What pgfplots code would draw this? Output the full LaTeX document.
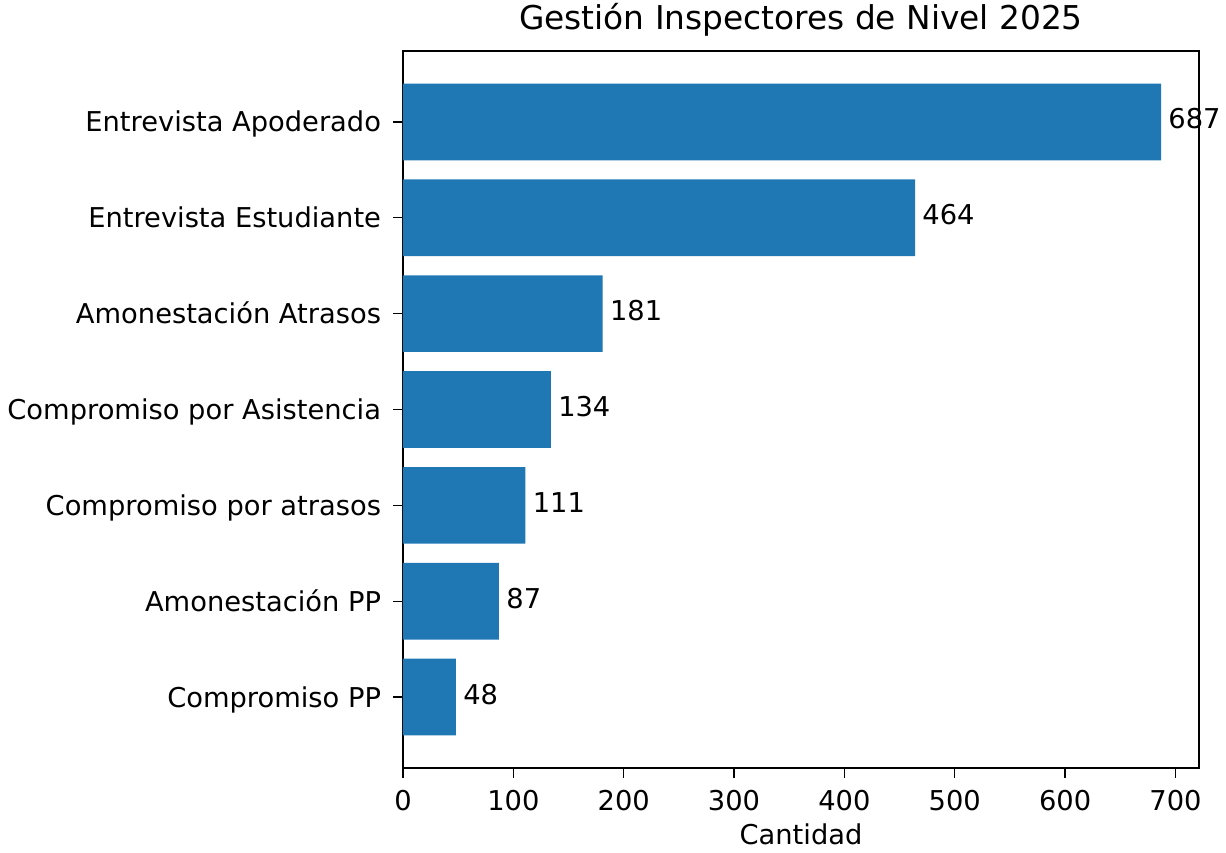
\documentclass[border=0pt]{standalone}
\usepackage{pgfplots}
\pgfplotsset{compat=1.18}
\usepackage{fontspec}
\setmainfont{DejaVu Sans}
\definecolor{mplblue}{HTML}{1F77B4}
\begin{document}
\begin{tikzpicture}
\begin{pgfinterruptboundingbox}
\begin{axis}[
  scale only axis,
  width=398pt, height=358.5pt,
  xbar, bar width=0.8,
  xmin=0, xmax=721.35,
  ymin=-0.74, ymax=6.74,
  ytick={0,1,2,3,4,5,6},
  yticklabels={Compromiso PP,Amonestación PP,Compromiso por atrasos,Compromiso por Asistencia,Amonestación Atrasos,Entrevista Estudiante,Entrevista Apoderado},
  xtick={0,100,200,300,400,500,600,700},
  tick align=outside,
  major tick length=4.8pt,
  xtick pos=bottom, ytick pos=left,
  tick style={black, line width=0.6pt},
  axis line style={line width=0.6pt},
  /pgf/number format/assume math mode=true,
  tick label style={font=\fontsize{13.65}{16}\selectfont},
  xticklabel style={inner sep=0pt, anchor=north, yshift=-6.2pt},
  yticklabel style={inner sep=0pt, anchor=base east, xshift=-6pt, yshift=-5pt},
  title={Gestión Inspectores de Nivel 2025},
  title style={font=\fontsize{16.4}{19}\selectfont, at={(0.5,1)}, anchor=base, inner sep=0pt, yshift=4.5pt},
  xlabel={Cantidad},
  xlabel style={font=\fontsize{13.65}{16}\selectfont, at={(axis description cs:0.5,0)}, anchor=base, inner sep=0pt, yshift=-38.3pt},
  nodes near coords,
  nodes near coords style={font=\fontsize{13.65}{16}\selectfont, anchor=base west, inner sep=0pt, xshift=3.5pt, yshift=-3.5pt, /pgf/number format/assume math mode=true},
  clip=false,
]
\addplot[fill=mplblue, draw=none] coordinates {
(48,0) (87,1) (111,2) (134,3) (181,4) (464,5) (687,6)
};
\end{axis}
\end{pgfinterruptboundingbox}
\path[use as bounding box] (-201.5pt,-42pt) rectangle (411.5pt,384pt);
\end{tikzpicture}
\end{document}
